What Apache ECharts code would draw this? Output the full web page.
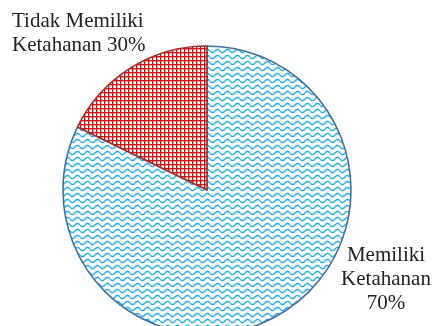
<!DOCTYPE html>
<html>
<head>
<meta charset="utf-8">
<script src="https://cdn.jsdelivr.net/npm/echarts@6/dist/echarts.min.js"></script>
<style>html,body{margin:0;padding:0;background:#fff}#c{width:433px;height:326px}</style>
</head>
<body>
<div id="c"></div>
<script>
// Data
const categories = ['Memiliki Ketahanan', 'Tidak Memiliki Ketahanan'];
const labelLines = [['Memiliki', 'Ketahanan', '70%'], ['Tidak Memiliki', 'Ketahanan 30%']];
const sliceShares = [82.2, 17.8]; // slice sizes as drawn in the reference

function wavePattern() {
  const c = document.createElement('canvas');
  c.width = 10; c.height = 6;
  const g = c.getContext('2d');
  g.fillStyle = '#fff'; g.fillRect(0, 0, 10, 6);
  g.strokeStyle = '#22aef2'; g.lineWidth = 1.4;
  g.beginPath();
  for (let x = 0; x <= 10; x += 0.5) {
    const y = 3 + 1.6 * Math.sin(x / 10 * Math.PI * 2);
    if (x === 0) g.moveTo(x, y); else g.lineTo(x, y);
  }
  g.stroke();
  return c;
}
function gridPattern() {
  const c = document.createElement('canvas');
  c.width = 4; c.height = 4;
  const g = c.getContext('2d');
  g.fillStyle = '#fff'; g.fillRect(0, 0, 4, 4);
  g.fillStyle = 'rgba(205,20,20,0.35)';
  g.fillRect(0, 1, 4, 1);
  g.fillRect(1, 0, 1, 4);
  g.fillStyle = '#cc1414';
  g.fillRect(0, 0, 4, 1);
  g.fillRect(0, 0, 1, 4);
  return c;
}

const fills = [{ image: wavePattern(), repeat: 'repeat' }, { image: gridPattern(), repeat: 'repeat' }];
const borders = ['#41719c', '#a33030'];
const labelPos = [{ x: 386, y: 243, align: 'center' }, { x: 12, y: 9, align: 'left' }];

const chart = echarts.init(document.getElementById('c'), null, { renderer: 'canvas' });
chart.setOption({
  animation: false,
  series: [{
    type: 'pie',
    center: [207, 190],
    radius: 144,
    startAngle: 90,
    clockwise: true,
    silent: true,
    data: categories.map((n, i) => ({
      name: n,
      value: sliceShares[i],
      itemStyle: { color: fills[i], borderColor: borders[i], borderWidth: 1.6 },
      label: { align: labelPos[i].align }
    })),
    label: {
      show: true,
      position: 'outside',
      formatter: p => labelLines[p.dataIndex].join('\n'),
      fontFamily: 'Liberation Serif',
      fontSize: 21,
      lineHeight: 24,
      color: '#222',
      overflow: 'none',
      width: 200
    },
    labelLine: { show: false },
    labelLayout: p => ({
      x: labelPos[p.dataIndex].x,
      y: labelPos[p.dataIndex].y,
      align: labelPos[p.dataIndex].align,
      verticalAlign: 'top',
      hideOverlap: false
    })
  }]
});
</script>
</body>
</html>
